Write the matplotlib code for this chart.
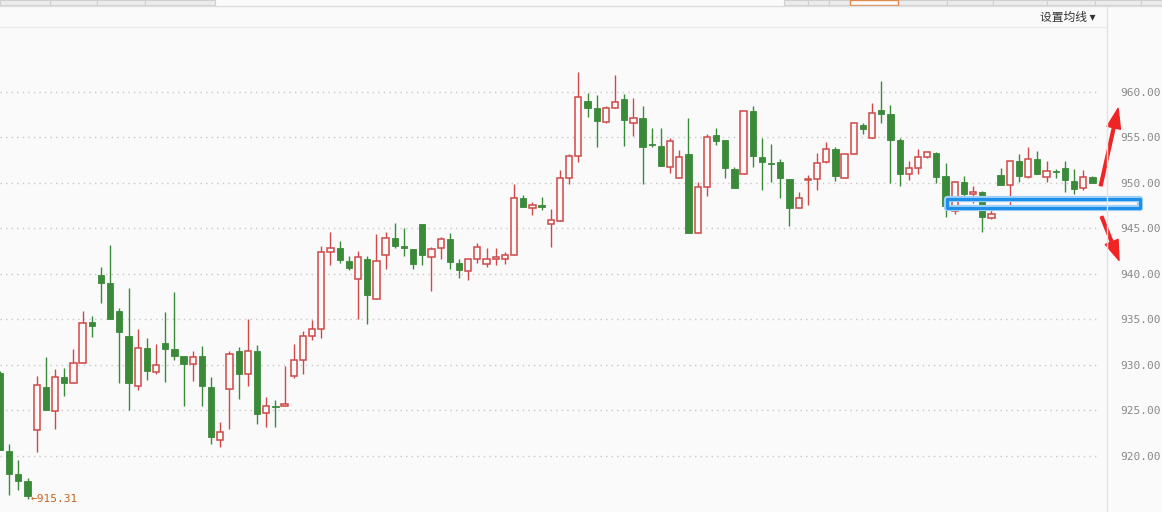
import numpy as np
import matplotlib
matplotlib.use('Agg')
import matplotlib.pyplot as plt
from matplotlib.patches import Rectangle

plt.rcParams['font.family'] = ['Noto Sans CJK SC', 'DejaVu Sans']

# daily candles, left to right
opens = [929.1, 920.55, 918.0, 917.25, 922.9, 927.6, 924.9, 928.7, 928.0, 930.2,
         934.7, 939.9, 939.0, 935.9, 933.2, 927.7, 931.9, 929.2, 932.4, 931.8,
         931.0, 930.1, 931.0, 927.6, 921.8, 927.4, 931.5, 929.0, 931.5, 924.7,
         925.5, 925.45, 928.75, 930.6, 933.15, 934.0, 942.4, 942.9, 941.4, 939.5,
         941.6, 937.3, 942.05, 944.0, 943.05, 942.8, 945.5, 941.9, 942.9, 943.9,
         941.2, 940.3, 941.7, 941.06, 941.7, 941.7, 942.05, 948.4, 947.2, 947.55,
         945.5, 945.8, 950.6, 953.0, 959.0, 958.2, 956.7, 958.2, 959.2, 956.55,
         957.15, 954.3, 954.1, 951.8, 950.5, 953.2, 944.5, 949.6, 955.3, 954.7,
         951.5, 950.95, 957.9, 952.9, 952.2, 952.3, 950.4, 947.2, 950.3, 950.4,
         952.35, 953.75, 950.5, 953.15, 956.35, 954.9, 958.0, 957.6, 954.75, 951.0,
         951.7, 952.9, 953.3, 950.8, 946.9, 950.1, 948.75, 949.0, 946.1, 950.9,
         949.75, 952.4, 950.7, 952.6, 950.7, 951.35, 951.6, 950.2, 949.4, 950.7]
highs = [929.3, 921.3, 919.6, 917.55, 928.8, 930.9, 929.6, 929.7, 931.8, 935.9,
         935.35, 940.8, 943.2, 936.3, 938.5, 934.0, 933.0, 932.3, 935.8, 938.0,
         931.0, 931.5, 932.1, 928.7, 923.7, 931.5, 932.0, 935.0, 932.2, 926.5,
         926.2, 929.9, 932.3, 933.7, 934.95, 943.1, 944.6, 943.6, 942.0, 942.5,
         942.0, 944.4, 944.6, 945.6, 945.0, 942.8, 945.5, 943.0, 944.1, 944.5,
         941.6, 941.7, 943.4, 942.9, 942.9, 942.4, 949.9, 948.7, 947.9, 948.5,
         947.1, 951.4, 953.2, 962.2, 959.9, 959.7, 958.5, 961.9, 959.8, 959.3,
         958.5, 956.0, 956.0, 954.95, 953.6, 957.1, 950.1, 955.4, 956.0, 954.7,
         951.8, 957.9, 958.5, 954.9, 954.3, 952.6, 950.4, 949.0, 950.9, 953.3,
         954.5, 954.0, 953.15, 956.55, 956.6, 958.8, 961.2, 958.6, 954.9, 952.4,
         953.7, 953.4, 953.4, 952.2, 950.2, 950.8, 949.7, 949.1, 947.4, 951.65,
         952.4, 953.2, 954.0, 953.55, 952.4, 951.5, 952.4, 951.5, 951.4, 950.75]
lows = [920.7, 915.7, 916.3, 915.31, 920.4, 925.0, 923.0, 926.6, 928.0, 930.2,
        933.1, 936.8, 935.0, 928.0, 925.0, 927.3, 928.3, 929.05, 928.1, 930.5,
        925.5, 928.2, 925.5, 921.35, 921.0, 923.0, 926.3, 927.65, 923.5, 923.15,
        923.2, 925.45, 928.6, 929.0, 932.8, 933.0, 941.0, 941.25, 940.4, 935.1,
        934.5, 937.3, 940.6, 942.9, 942.0, 940.5, 941.0, 938.1, 941.7, 940.5,
        939.6, 939.3, 941.2, 940.8, 941.0, 941.1, 942.05, 947.4, 946.45, 947.0,
        943.0, 945.8, 949.85, 952.3, 957.2, 954.0, 956.55, 958.2, 954.1, 955.2,
        949.9, 954.0, 951.9, 951.1, 950.5, 944.55, 944.5, 948.6, 954.2, 950.5,
        949.5, 950.95, 951.8, 949.2, 950.15, 948.3, 945.3, 947.2, 947.6, 949.2,
        952.2, 950.2, 950.5, 953.15, 955.4, 954.9, 956.55, 950.0, 949.7, 950.3,
        951.0, 952.7, 950.0, 946.3, 946.55, 948.6, 947.8, 944.6, 946.0, 949.8,
        947.4, 950.1, 950.5, 950.95, 950.1, 950.5, 949.0, 948.75, 949.2, 949.95]
closes = [920.7, 918.05, 917.3, 915.6, 927.8, 925.0, 928.7, 928.05, 930.2, 934.6,
          934.3, 939.0, 935.0, 933.6, 928.05, 931.9, 929.3, 930.0, 931.8, 931.0,
          930.15, 930.9, 927.65, 922.05, 922.6, 931.2, 929.05, 931.5, 924.65, 925.5,
          925.4, 925.7, 930.6, 933.2, 934.0, 942.4, 942.9, 941.5, 940.7, 941.9,
          937.7, 941.4, 944.0, 943.1, 942.9, 941.1, 942.1, 942.8, 943.9, 941.3,
          940.4, 941.7, 943.0, 941.7, 941.75, 942.05, 948.4, 947.4, 947.55, 947.4,
          945.9, 950.6, 953.0, 959.4, 958.2, 956.8, 958.2, 958.9, 956.9, 957.1,
          954.0, 954.15, 951.9, 954.6, 952.9, 944.55, 949.6, 955.1, 954.65, 951.6,
          949.5, 957.9, 953.0, 952.35, 952.1, 950.5, 947.2, 948.35, 950.45, 952.2,
          953.7, 950.8, 953.15, 956.55, 955.97, 957.65, 957.6, 954.75, 951.0, 951.7,
          952.9, 953.4, 950.7, 947.5, 950.1, 948.8, 949.0, 946.3, 946.55, 949.8,
          952.4, 950.8, 952.6, 950.95, 951.3, 951.2, 950.3, 949.3, 950.7, 950.0]

low_label = '←915.31'
low_index = 3
ytick_values = [920, 925, 930, 935, 940, 945, 950, 955, 960]
menu_text = '设置均线 ▾'

RED = '#d04848'
GREEN = '#3a8a3a'
BG = '#fafafa'

W, H = 1162, 512
fig = plt.figure(figsize=(W / 100, H / 100), dpi=100, facecolor=BG)

def fx(x):
    return x / W

def fy(y):
    return 1 - y / H

ax = fig.add_axes([0, 0, fx(1106), fy(28)])
ax.set_facecolor(BG)

o = np.array(opens)
c = np.array(closes)
hi = np.array(highs)
lo = np.array(lows)
x = np.arange(len(o))
up = c >= o

# wicks first, bodies on top
ax.vlines(x[up], lo[up], hi[up], color=RED, lw=1, zorder=2)
ax.vlines(x[~up], lo[~up], hi[~up], color=GREEN, lw=1, zorder=2)

body_lo = np.minimum(o, c)
body_h = np.maximum(np.abs(c - o), 0.12)
ax.bar(x[up], body_h[up], bottom=body_lo[up], width=0.68, facecolor='#fffafa',
       edgecolor=RED, linewidth=1.1, zorder=3)
ax.bar(x[~up], body_h[~up], bottom=body_lo[~up], width=0.68, facecolor=GREEN,
       edgecolor=GREEN, linewidth=0.6, zorder=3)

ax.set_xlim(0, 1106 / 9.18)
ax.set_ylim(960 - (512 - 92) / 9.1, 960 + (92 - 28) / 9.1)

for v in ytick_values:
    ax.axhline(v, xmin=0, xmax=1100 / 1106, color='#c8c8c8', lw=1,
               linestyle=(0, (1, 3)), zorder=1)

ax.yaxis.tick_right()
ax.set_yticks(ytick_values)
ax.set_yticklabels(['%.2f' % v for v in ytick_values], family='DejaVu Sans Mono',
                   fontsize=8, color='#8a8a8a')
ax.tick_params(axis='y', length=0, pad=10)
ax.set_xticks([])
for s in ax.spines.values():
    s.set_visible(False)

# lowest price label
ax.text(low_index + 0.3, lows[low_index], low_label, color='#c8641e', fontsize=8,
        family='DejaVu Sans Mono', ha='left', va='center', zorder=4)

# blue box around the support zone
ax.add_patch(Rectangle((103.2, 947.25), 21.0, 0.99, fill=False, edgecolor='#9fd0f8',
                       lw=4.5, joinstyle='round', clip_on=False, zorder=5))
ax.add_patch(Rectangle((103.2, 947.25), 21.0, 0.99, fill=False, edgecolor='#1e8fe8',
                       lw=2.2, joinstyle='round', clip_on=False, zorder=6))

# red arrows up / down
arrow = dict(arrowstyle='simple,head_length=1.3,head_width=0.9,tail_width=0.18',
             color='#f02424', mutation_scale=11, shrinkA=0, shrinkB=0)
ax.annotate('', xy=(121.8, 958.2), xytext=(119.9, 949.7), arrowprops=arrow,
            annotation_clip=False, zorder=7)
ax.annotate('', xy=(121.9, 941.5), xytext=(120.0, 946.3), arrowprops=arrow,
            annotation_clip=False, zorder=7)

# header: tabs, separators, menu text
for x0, x1 in [(0, 50), (50, 97), (97, 145), (145, 215), (784, 808), (808, 829),
               (829, 850), (898, 947), (947, 993), (993, 1047), (1047, 1095),
               (1095, 1141), (1141, 1162)]:
    fig.add_artist(Rectangle((fx(x0), fy(5)), fx(x1 - x0), 5 / H, transform=fig.transFigure,
                             facecolor='#ececec', edgecolor='#cfcfcf', lw=0.8))
fig.add_artist(Rectangle((fx(850), fy(5)), fx(48), 5 / H, transform=fig.transFigure,
                         facecolor='#fdfdfd', edgecolor='#e08a50', lw=1))
fig.add_artist(plt.Line2D([0, 1], [fy(5.5), fy(5.5)], transform=fig.transFigure,
                          color='#dedede', lw=1))
fig.add_artist(plt.Line2D([0, fx(1106)], [fy(27), fy(27)], transform=fig.transFigure,
                          color='#ebebeb', lw=1))
fig.add_artist(plt.Line2D([fx(1106.5), fx(1106.5)], [0, fy(5.5)], transform=fig.transFigure,
                          color='#e2e2e2', lw=1))
fig.text(fx(1096), fy(17), menu_text, ha='right', va='center', fontsize=8.5, color='#333333')

fig.savefig('out.png', dpi=100, facecolor=BG)
